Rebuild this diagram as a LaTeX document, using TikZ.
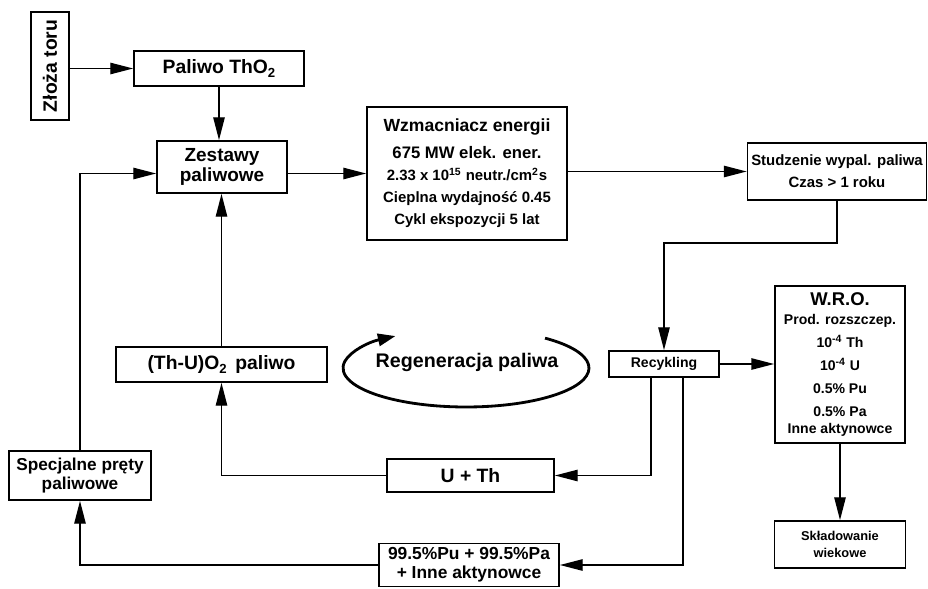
\documentclass[tikz,border=0pt]{standalone}
\usepackage{fontspec}
\setmainfont{Liberation Sans}
\usetikzlibrary{calc,arrows.meta}
\tikzset{
  ar/.style={-{Triangle[length=13pt,width=6.5pt]},line width=0.8pt},
  box/.style={draw,line width=1pt,align=center,inner sep=0pt},
  sz/.style 2 args={minimum width=#1*0.02cm,minimum height=#2*0.02cm},
  fnt/.style 2 args={font=\bfseries\fontsize{#1}{#2}\selectfont}
}
\newcommand{\lowsub}[1]{\raisebox{-2.5pt}{\fontsize{7.5}{8}\selectfont #1}}
\begin{document}
\begin{tikzpicture}[x=0.02cm,y=-0.02cm]
\useasboundingbox (0,0) rectangle (928,588);
\node[box,sz={38}{108},fnt={11}{12}] (zloza) at (50,66) {\rotatebox{90}{Złoża toru}};
\node[box,sz={170}{35},fnt={11}{12}] (paliwo) at (219,68.5) {Paliwo ThO\lowsub{2}};
\node[box,sz={130}{52},fnt={10.8}{10}] (zestawy) at (222,167) {Zestawy\\paliwowe};
\node[box,sz={200}{133},fnt={8.5}{12.5}] (wzm) at (467,173.5) {{\fontsize{10}{12}\selectfont Wzmacniacz energii}\\[3pt]
  {\fontsize{9.5}{12}\selectfont 675 MW elek. ener.}\\
  2.33 x 10\textsuperscript{15} neutr./cm\textsuperscript{2}s\\
  Cieplna wydajność 0.45\\
  Cykl ekspozycji 5 lat};
\node[box,sz={179}{57},fnt={8.5}{12.5}] (studz) at (837,171.5) {Studzenie wypal. paliwa\\Czas > 1 roku};
\node[box,sz={110}{26},fnt={8}{10}] (recyk) at (664,364) {Recykling};
\node[box,sz={130}{157},fnt={8}{13}] (wro) at (840,364.5) {{\fontsize{10.5}{12}\selectfont W.R.O.}\\[-2pt]
  Prod. rozszczep.\\
  10\textsuperscript{-4} Th\\
  10\textsuperscript{-4} U\\
  0.5\% Pu\\
  0.5\% Pa\\[-3pt]
  Inne aktynowce};
\node[box,sz={131}{47},fnt={7.3}{9.5}] (sklad) at (840,544.5) {Składowanie\\wiekowe};
\node[box,sz={211}{35},fnt={11}{12}] (thu) at (221.5,364.5) {(Th-U)O\lowsub{2}\, paliwo};
\node[fnt={11.2}{12}] (regen) at (467,362) {Regeneracja paliwa};
\node[box,sz={167}{33},fnt={11}{12}] (uth) at (470.5,475.5) {U + Th};
\node[box,sz={142}{49},fnt={9.8}{10.5}] (spec) at (80,475.5) {Specjalne pręty\\paliwowe};
\node[box,sz={180}{43},fnt={9.9}{10.8}] (pupa) at (469,565) {99.5\%Pu + 99.5\%Pa\\+ Inne aktynowce};

\draw[ar] (zloza.east |- paliwo) -- (paliwo.west);
\draw[ar] (paliwo.south) -- (paliwo.south |- zestawy.north);
\draw[ar] (zestawy.east |- wzm) -- (wzm.west);
\draw[ar] (wzm.east |- studz) -- (studz.west);
\draw[ar] (studz.south) -- ++(0,42) -| (recyk.north);
\draw[ar] (recyk.east) -- (recyk.east -| wro.west);
\draw[ar] (wro.south) -- (sklad.north);
\draw[ar] ($(recyk.south)+(-13,0)$) |- (uth.east);
\draw[ar] ($(recyk.south)+(19,0)$) |- (pupa.east);
\draw[ar] (uth.west) -| (thu.south);
\draw[ar] (thu.north) -- (thu.north |- zestawy.south);
\draw[ar] (pupa.west) -| (spec.south);
\draw[ar] (spec.north) |- (zestawy.west |- wzm);

\coordinate (ellc) at (466,368);
\draw[line width=1.6pt,-{Triangle[length=10pt,width=7pt]}] ($(ellc)+(50:2.46cm and 0.78cm)$)
  arc[start angle=50,end angle=-235,x radius=2.46cm,y radius=0.78cm];
\end{tikzpicture}
\end{document}
